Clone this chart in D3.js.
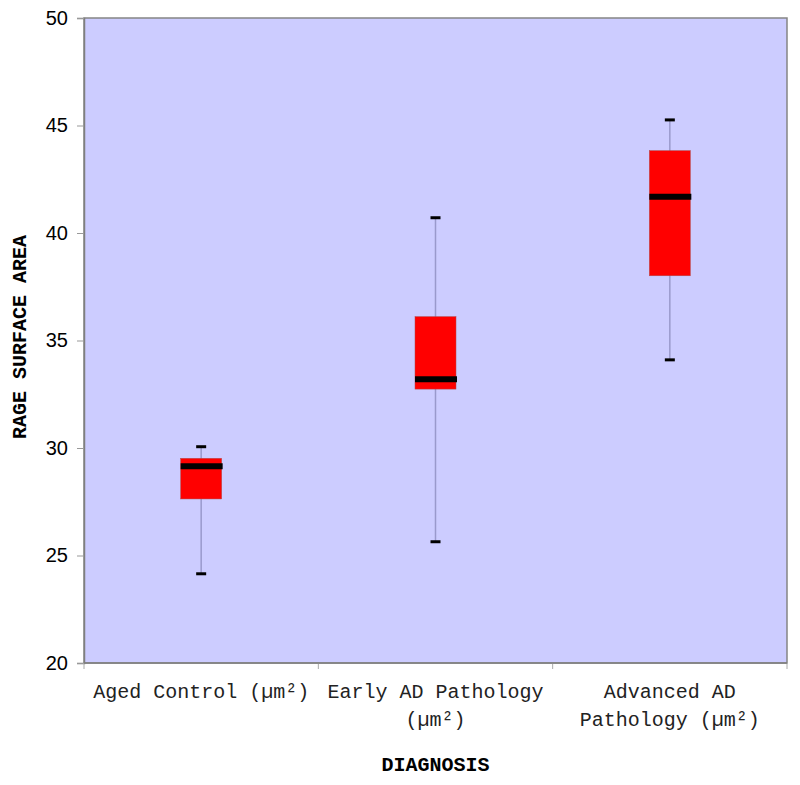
<!DOCTYPE html>
<html>
<head>
<meta charset="utf-8">
<script src="https://cdn.jsdelivr.net/npm/d3@7"></script>
<style>
  body { margin: 0; background: #fff; }
</style>
</head>
<body>
<svg id="chart" width="800" height="785"></svg>
<script>
// data
var categories = ["Aged Control (µm²)", "Early AD Pathology (µm²)", "Advanced AD Pathology (µm²)"];
var labelLines = [["Aged Control (µm²)"], ["Early AD Pathology", "(µm²)"], ["Advanced AD", "Pathology (µm²)"]];
var whiskerLow = [24.15, 25.64, 34.1];
var boxLow = [27.63, 32.74, 38.01];
var medians = [29.15, 33.2, 41.69];
var boxHigh = [29.52, 36.11, 43.83];
var whiskerHigh = [30.06, 40.71, 45.26];
var yTicks = [20, 25, 30, 35, 40, 45, 50];

var svg = d3.select("#chart"),
  margin = { top: 18, right: 13, bottom: 122, left: 84 },
  width = 800 - margin.left - margin.right,
  height = 785 - margin.top - margin.bottom;

var x = d3.scaleBand().domain(categories).range([0, width]);
var y = d3.scaleLinear().domain([20, 50]).range([height, 0]);

var g = svg.append("g").attr("transform", "translate(" + margin.left + "," + margin.top + ")");

// plot background + frame
g.append("rect").attr("x", 0).attr("y", 0).attr("width", width).attr("height", height)
  .attr("fill", "#ccccff").attr("stroke", "#858585").attr("stroke-width", 1.5);

// y axis
var yAxis = g.append("g").call(d3.axisLeft(y).tickValues(yTicks).tickSize(7).tickPadding(9));
yAxis.select(".domain").attr("stroke", "#7f7f7f").attr("stroke-width", 1.5);
yAxis.selectAll(".tick line").attr("stroke", "#999");
yAxis.selectAll("text").attr("font-family", "'Liberation Sans', Arial, sans-serif")
  .attr("font-size", 20).attr("fill", "#000");

// x axis ticks on band edges
var edges = [0].concat(categories.map(c => x(c) + x.bandwidth()));
g.selectAll(".xtick").data(edges).join("line").attr("class", "xtick")
  .attr("x1", d => d).attr("x2", d => d).attr("y1", height).attr("y2", height + 6)
  .attr("stroke", "#aaa");
g.append("line").attr("x1", 0).attr("x2", width).attr("y1", height).attr("y2", height)
  .attr("stroke", "#7f7f7f").attr("stroke-width", 1.5);

// category labels
var lab = g.selectAll(".xlab").data(labelLines).join("text").attr("class", "xlab")
  .attr("text-anchor", "middle")
  .attr("font-family", "'Liberation Mono', 'Courier New', monospace")
  .attr("font-size", 20).attr("fill", "#222");
lab.each(function (lines, i) {
  var cx = x(categories[i]) + x.bandwidth() / 2;
  d3.select(this).selectAll("tspan").data(lines).join("tspan")
    .attr("x", cx).attr("y", (d, j) => height + 35 + j * 28).text(d => d);
});

// boxes
var bw = 41, capW = 10;
var boxes = g.selectAll(".box").data(categories).join("g").attr("class", "box")
  .attr("transform", d => "translate(" + (x(d) + x.bandwidth() / 2) + ",0)");

boxes.append("line").attr("x1", 0).attr("x2", 0)
  .attr("y1", (d, i) => y(whiskerLow[i])).attr("y2", (d, i) => y(whiskerHigh[i]))
  .attr("stroke", "#9999cc").attr("stroke-width", 1.5);

boxes.append("rect").attr("x", -bw / 2).attr("width", bw)
  .attr("y", (d, i) => y(boxHigh[i])).attr("height", (d, i) => y(boxLow[i]) - y(boxHigh[i]))
  .attr("fill", "#ff0000").attr("stroke", "#b04a4a").attr("stroke-width", 0.5);

boxes.append("line").attr("x1", -bw / 2).attr("x2", bw / 2 + 1)
  .attr("y1", (d, i) => y(medians[i])).attr("y2", (d, i) => y(medians[i]))
  .attr("stroke", "#000").attr("stroke-width", 6);

boxes.append("line").attr("x1", -capW / 2).attr("x2", capW / 2)
  .attr("y1", (d, i) => y(whiskerHigh[i])).attr("y2", (d, i) => y(whiskerHigh[i]))
  .attr("stroke", "#000").attr("stroke-width", 3);
boxes.append("line").attr("x1", -capW / 2).attr("x2", capW / 2)
  .attr("y1", (d, i) => y(whiskerLow[i])).attr("y2", (d, i) => y(whiskerLow[i]))
  .attr("stroke", "#000").attr("stroke-width", 3);

// axis titles
svg.append("text").attr("x", margin.left + width / 2).attr("y", 771)
  .attr("text-anchor", "middle")
  .attr("font-family", "'Liberation Mono', 'Courier New', monospace")
  .attr("font-weight", "bold").attr("font-size", 20).text("DIAGNOSIS");

svg.append("text").attr("transform", "translate(26,337) rotate(-90)")
  .attr("text-anchor", "middle")
  .attr("font-family", "'Liberation Mono', 'Courier New', monospace")
  .attr("font-weight", "bold").attr("font-size", 20).text("RAGE SURFACE AREA");
</script>
</body>
</html>
